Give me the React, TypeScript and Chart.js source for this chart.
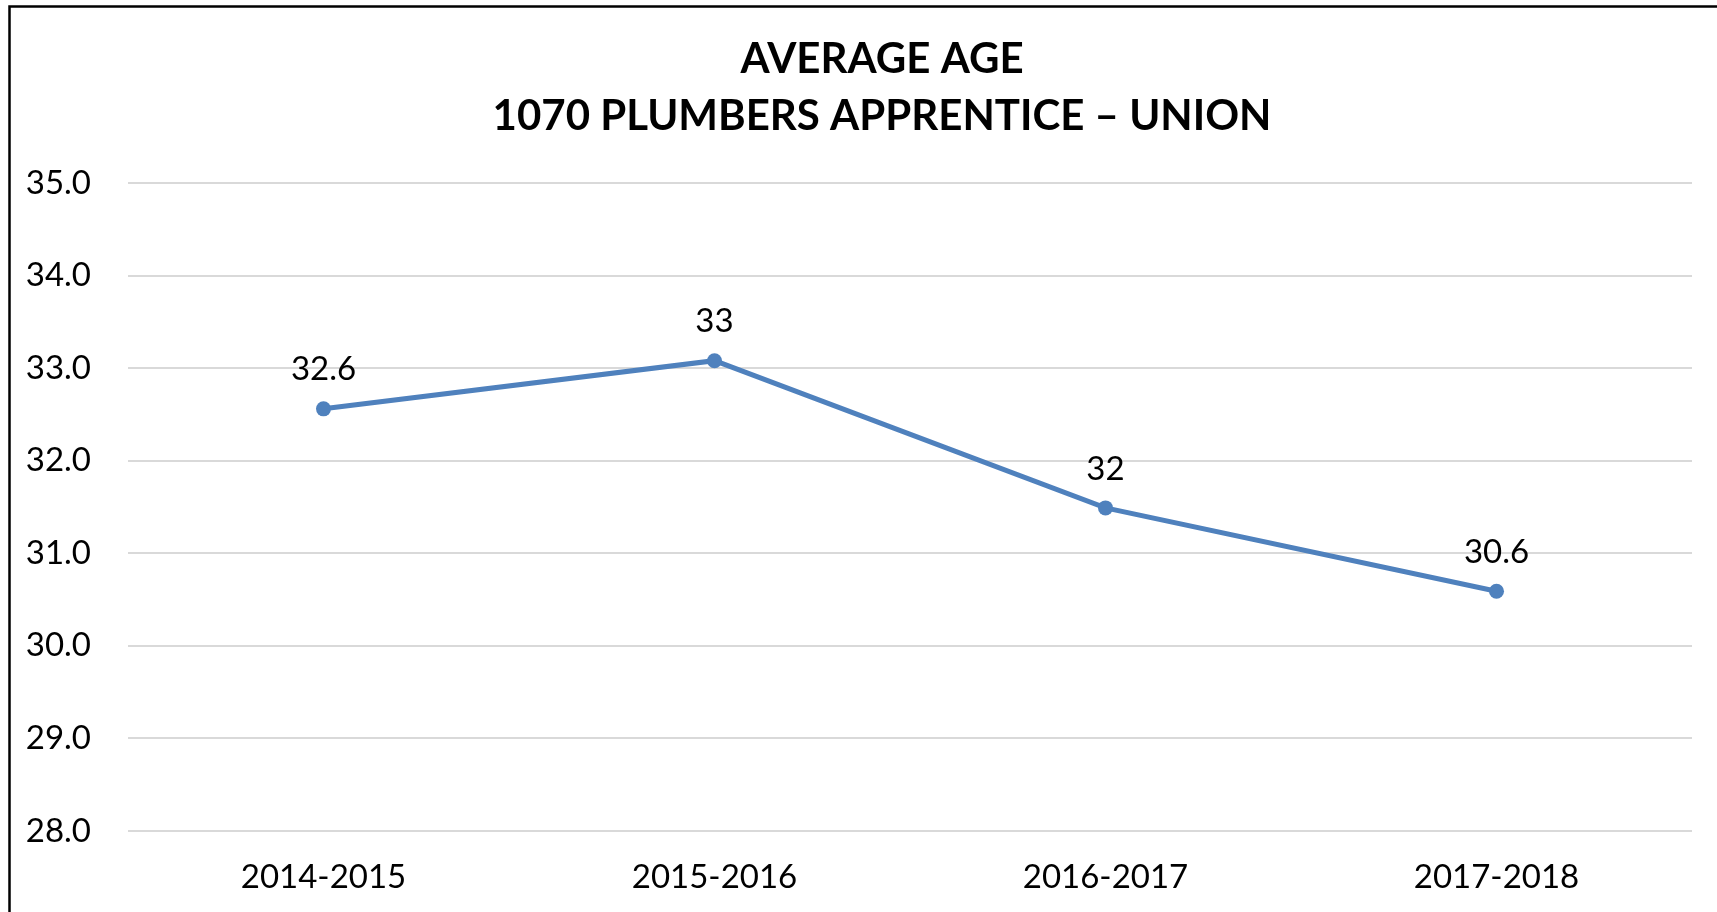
import React, { useEffect, useRef } from "react";
import { Chart, registerables } from "chart.js";

Chart.register(...registerables);

const categories = ["2014-2015", "2015-2016", "2016-2017", "2017-2018"];
const averageAge = [32.56, 33.08, 31.49, 30.59];
const dataLabels = ["32.6", "33", "32", "30.6"];
const titleLines = ["AVERAGE AGE", "1070 PLUMBERS APPRENTICE \u2013 UNION"];
const yMin = 28;
const yMax = 35;
const yStep = 1;

const FONT = "Lato, 'Open Sans', sans-serif";
const LINE_COLOR = "#4F81BD";
// The original chart object is wider than the visible picture (cropped on the right)
const CANVAS_W = 1764;
const CANVAS_H = 912;

const framePlugin = {
  id: "frame",
  beforeDraw(chart: any) {
    const ctx = chart.ctx;
    ctx.save();
    ctx.fillStyle = "#ffffff";
    ctx.fillRect(0, 0, chart.width, chart.height);
    ctx.strokeStyle = "#000000";
    ctx.lineWidth = 2.5;
    ctx.strokeRect(9.5, 6.5, chart.width + 100, chart.height + 100);
    ctx.restore();
  },
};

const labelPlugin = {
  id: "pointLabels",
  afterDatasetsDraw(chart: any) {
    const ctx = chart.ctx;
    const meta = chart.getDatasetMeta(0);
    ctx.save();
    ctx.font = `33px ${FONT}`;
    ctx.fillStyle = "#000000";
    ctx.textAlign = "center";
    ctx.textBaseline = "middle";
    meta.data.forEach((pt: any, i: number) => {
      ctx.fillText(dataLabels[i], pt.x, pt.y - 39);
    });
    ctx.restore();
  },
};

export default function App() {
  const ref = useRef<HTMLCanvasElement>(null);

  useEffect(() => {
    document.body.style.margin = "0";
    const canvas = ref.current;
    if (!canvas) return;
    const chart = new Chart(canvas, {
      type: "line",
      data: {
        labels: categories,
        datasets: [
          {
            label: "Average Age",
            data: averageAge,
            borderColor: LINE_COLOR,
            backgroundColor: LINE_COLOR,
            borderWidth: 5,
            pointRadius: 7.5,
            pointBorderWidth: 0,
            pointBackgroundColor: LINE_COLOR,
            tension: 0,
            yAxisID: "y",
          },
        ],
      },
      options: {
        animation: false,
        responsive: false,
        maintainAspectRatio: false,
        layout: { padding: 0 },
        plugins: {
          legend: { display: false },
          tooltip: { enabled: false },
          title: {
            display: true,
            text: titleLines,
            color: "#000000",
            font: { family: FONT, size: 42, weight: "bold", lineHeight: 1.38 },
            padding: { top: 30, bottom: 37 },
          },
        },
        scales: {
          x: {
            offset: true,
            grid: { display: false, drawTicks: false },
            border: { display: false },
            ticks: {
              color: "#000000",
              font: { family: FONT, size: 33 },
              padding: 27,
              maxRotation: 0,
            },
            afterFit(scale: any) {
              scale.height = 81;
            },
          },
          y: {
            position: "left",
            min: yMin,
            max: yMax,
            grid: { color: "#D9D9D9", lineWidth: 2, drawTicks: false },
            border: { display: false },
            ticks: {
              stepSize: yStep,
              color: "#000000",
              font: { family: FONT, size: 33 },
              padding: 37,
              callback: (v: any) => Number(v).toFixed(1),
            },
            afterFit(scale: any) {
              scale.width = 128;
            },
          },
          yRight: {
            position: "right",
            min: yMin,
            max: yMax,
            grid: { display: false, drawTicks: false },
            border: { display: false },
            ticks: { display: false },
            afterFit(scale: any) {
              scale.width = CANVAS_W - 1692;
            },
          },
        },
      },
      plugins: [framePlugin, labelPlugin],
    });
    return () => chart.destroy();
  }, []);

  return (
    <div style={{ width: 1717, height: 912, overflow: "hidden" }}>
      <canvas ref={ref} width={CANVAS_W} height={CANVAS_H} style={{ display: "block" }} />
    </div>
  );
}
